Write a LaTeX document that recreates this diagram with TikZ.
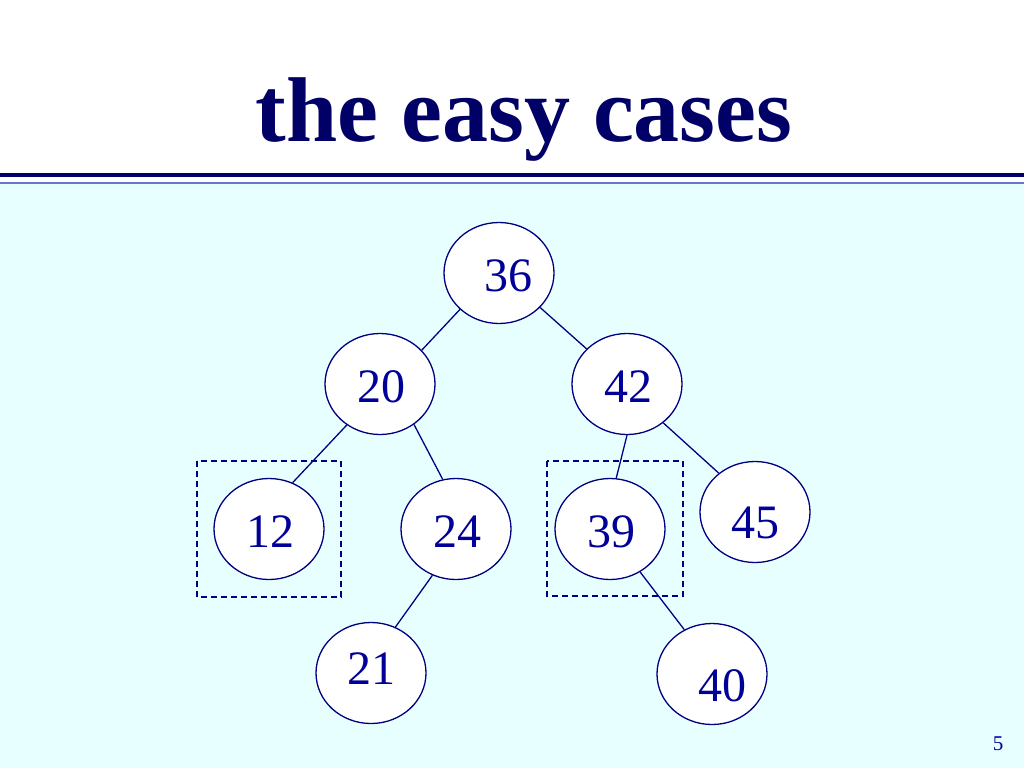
\documentclass[tikz,border=0pt]{standalone}
\usepackage{fontspec}
\setmainfont{Liberation Serif}
\usetikzlibrary{shapes.geometric}
\definecolor{slidebg}{HTML}{E8FFFF}
\definecolor{titlenavy}{HTML}{000066}
\definecolor{rulelight}{HTML}{6677CC}
\definecolor{keyline}{HTML}{000080}
\definecolor{keytext}{HTML}{000099}
\tikzset{
  key/.style={ellipse, draw=keyline, fill=white, line width=1.3pt,
    minimum width=110pt, minimum height=101pt, inner sep=0pt},
  num/.style={text=keytext, font=\fontsize{48}{48}\selectfont},
  edge/.style={draw=keyline, line width=1.3pt},
  pick/.style={draw=keyline, line width=1.3pt, dash pattern=on 6pt off 4pt}
}
\begin{document}
\begin{tikzpicture}[x=1pt, y=-1pt]
                \useasboundingbox (0,0) rectangle (1024,768);
                \fill[white] (0,0) rectangle (1024,184);
                \fill[slidebg] (0,184) rectangle (1024,768);
                \draw[titlenavy, line width=4.5pt] (0,175) -- (1024,175);
                \draw[rulelight, line width=1.5pt] (0,183) -- (1024,183);
                \node[anchor=base, text=titlenavy, font=\fontsize{92}{100}\selectfont\bfseries] (title) at (524,141) {the easy cases};
                % keys of the tree
                \node[key, label={[num, shift={(9pt,-3pt)}]center:36}] (n36) at (499,273) {};
                \node[key, label={[num, shift={(1pt,-3pt)}]center:20}] (n20) at (380,384) {};
                \node[key, label={[num, shift={(1pt,-3pt)}]center:42}] (n42) at (627,384) {};
                \node[key, label={[num, shift={(1pt,-3pt)}]center:12}] (n12) at (269,529) {};
                \node[key, label={[num, shift={(1pt,-3pt)}]center:24}] (n24) at (456,529) {};
                \node[key, label={[num, shift={(1pt,-3pt)}]center:39}] (n39) at (610,529) {};
                \node[key, label={[num, shift={(0pt,-11pt)}]center:45}] (n45) at (755,512) {};
                \node[key, label={[num, shift={(0pt,4pt)}]center:21}] (n21) at (371,673) {};
                \node[key, label={[num, shift={(10pt,-12pt)}]center:40}] (n40) at (712,674) {};
                % links
                \draw[edge] (n36.223) -- (n20.39);
                \draw[edge] (n36.320) -- (n42.139);
                \draw[edge] (n20.231) -- (n12.63);
                \draw[edge] (n20.310) -- (n24.105);
                \draw[edge] (n42.270) -- (n39.83);
                \draw[edge] (n42.313) -- (n45.133);
                \draw[edge] (n24.243) -- (n21.62);
                \draw[edge] (n39.305) -- (n40.122);
                % the easy cases
                \draw[pick] (197,461) rectangle (341,597);
                \draw[pick] (547,461) rectangle (683,596);
                \node[anchor=base, text=keytext, font=\fontsize{21}{21}\selectfont] (page) at (998,750) {5};
            \end{tikzpicture}
\end{document}
